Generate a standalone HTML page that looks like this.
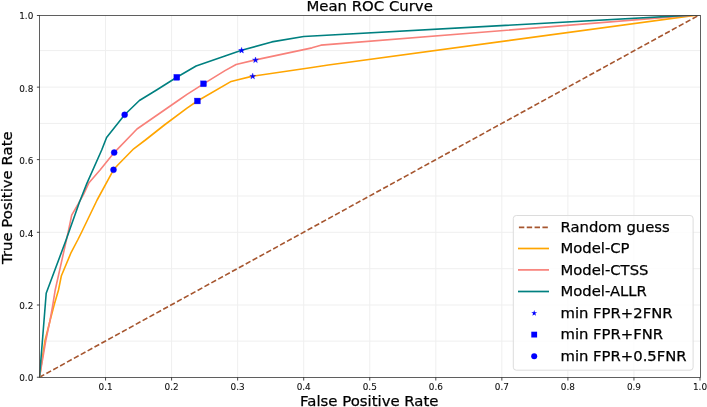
<!DOCTYPE html>
<html><head><meta charset="utf-8"><title>Mean ROC Curve</title>
<style>
html,body{margin:0;padding:0;background:#fff;}
body{width:707px;height:407px;overflow:hidden;}
svg{display:block;}
text{font-family:"DejaVu Sans","Liberation Sans",sans-serif;fill:#000;stroke:#000;stroke-width:0.25px;}
.tk{font-size:8.9px;stroke-width:0.08px;fill:#111;}
.big{font-size:14.9px;}
.lg{font-size:14.8px;}
</style></head><body>
<svg width="707" height="407" viewBox="0 0 707 407">
<rect width="707" height="407" fill="#fff"/>

<g stroke="#efefef" stroke-width="1" fill="none">
<line x1="105.55" y1="15.50" x2="105.55" y2="377.25"/>
<line x1="39.50" y1="341.10" x2="700.00" y2="341.10"/>
<line x1="171.60" y1="15.50" x2="171.60" y2="377.25"/>
<line x1="39.50" y1="305.00" x2="700.00" y2="305.00"/>
<line x1="237.65" y1="15.50" x2="237.65" y2="377.25"/>
<line x1="39.50" y1="268.70" x2="700.00" y2="268.70"/>
<line x1="303.70" y1="15.50" x2="303.70" y2="377.25"/>
<line x1="39.50" y1="232.30" x2="700.00" y2="232.30"/>
<line x1="369.75" y1="15.50" x2="369.75" y2="377.25"/>
<line x1="39.50" y1="196.00" x2="700.00" y2="196.00"/>
<line x1="435.80" y1="15.50" x2="435.80" y2="377.25"/>
<line x1="39.50" y1="159.60" x2="700.00" y2="159.60"/>
<line x1="501.85" y1="15.50" x2="501.85" y2="377.25"/>
<line x1="39.50" y1="123.40" x2="700.00" y2="123.40"/>
<line x1="567.90" y1="15.50" x2="567.90" y2="377.25"/>
<line x1="39.50" y1="87.15" x2="700.00" y2="87.15"/>
<line x1="633.95" y1="15.50" x2="633.95" y2="377.25"/>
<line x1="39.50" y1="50.60" x2="700.00" y2="50.60"/>
</g>
<defs><clipPath id="c"><rect x="39.50" y="15.50" width="660.50" height="361.75"/></clipPath></defs>
<g clip-path="url(#c)" fill="none" stroke-width="1.6" stroke-linejoin="round">
<line x1="39.50" y1="377.25" x2="699.90" y2="14.65" stroke="#a6562f" stroke-width="1.6" stroke-dasharray="5.4 2.442"/>
<polyline points="39.50,377.25 44.90,341.00 50.20,320.00 54.20,304.80 58.50,290.00 61.40,275.70 71.20,252.30 77.70,240.00 81.70,232.00 97.10,200.00 113.50,169.80 117.80,165.00 133.70,148.80 145.40,140.00 164.40,125.00 187.00,108.20 197.40,101.00 231.20,81.40 237.00,79.90 252.70,76.15 312.00,67.50 328.30,65.00 699.90,14.65" stroke="#ffa500"/>
<polyline points="39.50,377.25 45.70,341.00 50.10,320.00 52.80,304.80 55.20,290.00 68.20,232.00 71.70,215.20 78.50,203.50 83.80,193.80 89.00,182.70 100.06,170.00 114.20,152.60 137.00,129.00 178.90,100.00 187.00,94.30 203.50,83.80 225.00,70.60 236.10,64.50 255.50,59.90 312.00,47.85 320.90,45.15 699.90,14.65" stroke="#f8817a"/>
<polyline points="39.50,377.25 46.20,293.30 66.06,240.00 79.50,202.00 87.00,183.10 101.70,150.00 106.60,137.50 124.65,114.80 139.40,100.50 156.60,90.00 176.80,77.30 196.10,66.00 225.00,56.10 241.60,50.30 271.80,41.90 303.70,36.50 699.90,14.65" stroke="#008080"/>
</g>
<g fill="#0000ff" stroke="#0000ff" stroke-width="0.4" stroke-linejoin="miter">
<polygon points="241.60,47.40 242.30,49.54 244.55,49.54 242.73,50.87 243.42,53.01 241.60,51.68 239.78,53.01 240.47,50.87 238.65,49.54 240.90,49.54"/>
<polygon points="255.50,57.00 256.20,59.14 258.45,59.14 256.63,60.47 257.32,62.61 255.50,61.28 253.68,62.61 254.37,60.47 252.55,59.14 254.80,59.14"/>
<polygon points="252.70,73.25 253.40,75.39 255.65,75.39 253.83,76.72 254.52,78.86 252.70,77.53 250.88,78.86 251.57,76.72 249.75,75.39 252.00,75.39"/>
<rect x="173.90" y="74.40" width="5.8" height="5.8"/>
<rect x="200.60" y="80.90" width="5.8" height="5.8"/>
<rect x="194.50" y="98.10" width="5.8" height="5.8"/>
<circle cx="124.65" cy="114.80" r="3"/>
<circle cx="114.20" cy="152.60" r="3"/>
<circle cx="113.50" cy="169.80" r="3"/>
</g>
<rect x="39.5" y="15.5" width="661" height="361.9" fill="none" stroke="#333" stroke-width="0.78"/>
<g stroke="#333" stroke-width="0.9">
<line x1="105.55" y1="377.25" x2="105.55" y2="380.55"/>
<line x1="171.60" y1="377.25" x2="171.60" y2="380.55"/>
<line x1="237.65" y1="377.25" x2="237.65" y2="380.55"/>
<line x1="303.70" y1="377.25" x2="303.70" y2="380.55"/>
<line x1="369.75" y1="377.25" x2="369.75" y2="380.55"/>
<line x1="435.80" y1="377.25" x2="435.80" y2="380.55"/>
<line x1="501.85" y1="377.25" x2="501.85" y2="380.55"/>
<line x1="567.90" y1="377.25" x2="567.90" y2="380.55"/>
<line x1="633.95" y1="377.25" x2="633.95" y2="380.55"/>
<line x1="700.00" y1="377.25" x2="700.00" y2="380.55"/>
<line x1="36.90" y1="377.25" x2="39.50" y2="377.25"/>
<line x1="36.90" y1="305.00" x2="39.50" y2="305.00"/>
<line x1="36.90" y1="232.30" x2="39.50" y2="232.30"/>
<line x1="36.90" y1="159.60" x2="39.50" y2="159.60"/>
<line x1="36.90" y1="87.15" x2="39.50" y2="87.15"/>
<line x1="36.90" y1="15.50" x2="39.50" y2="15.50"/>
</g>
<text class="tk" x="105.55" y="389.9" text-anchor="middle">0.1</text>
<text class="tk" x="171.60" y="389.9" text-anchor="middle">0.2</text>
<text class="tk" x="237.65" y="389.9" text-anchor="middle">0.3</text>
<text class="tk" x="303.70" y="389.9" text-anchor="middle">0.4</text>
<text class="tk" x="369.75" y="389.9" text-anchor="middle">0.5</text>
<text class="tk" x="435.80" y="389.9" text-anchor="middle">0.6</text>
<text class="tk" x="501.85" y="389.9" text-anchor="middle">0.7</text>
<text class="tk" x="567.90" y="389.9" text-anchor="middle">0.8</text>
<text class="tk" x="633.95" y="389.9" text-anchor="middle">0.9</text>
<text class="tk" x="700.00" y="389.9" text-anchor="middle">1.0</text>
<text class="tk" x="33.3" y="381.30" text-anchor="end">0.0</text>
<text class="tk" x="33.3" y="309.30" text-anchor="end">0.2</text>
<text class="tk" x="33.3" y="236.80" text-anchor="end">0.4</text>
<text class="tk" x="33.3" y="164.30" text-anchor="end">0.6</text>
<text class="tk" x="33.3" y="91.60" text-anchor="end">0.8</text>
<text class="tk" x="33.3" y="18.90" text-anchor="end">1.0</text>
<text class="big" x="369.6" y="11.1" text-anchor="middle">Mean ROC Curve</text>
<text class="big" x="369.3" y="405.6" text-anchor="middle">False Positive Rate</text>
<text class="big" transform="translate(12.2 197.7) rotate(-90)" text-anchor="middle">True Positive Rate</text>
<rect x="513.3" y="215.5" width="179.8" height="154.7" rx="3" ry="3" fill="#fff" fill-opacity="0.8" stroke="#dcdcdc" stroke-width="1"/>
<line x1="518.9" y1="227.30" x2="549.0" y2="227.30" stroke="#a6562f" stroke-width="1.7" stroke-dasharray="5.4 2.442"/>
<line x1="518.0" y1="248.50" x2="549.0" y2="248.50" stroke="#ffa500" stroke-width="1.7"/>
<line x1="518.0" y1="269.90" x2="549.0" y2="269.90" stroke="#f8817a" stroke-width="1.7"/>
<line x1="518.0" y1="291.50" x2="549.0" y2="291.50" stroke="#008080" stroke-width="1.7"/>
<polygon points="534.20,310.10 534.90,312.24 537.15,312.24 535.33,313.57 536.02,315.71 534.20,314.38 532.38,315.71 533.07,313.57 531.25,312.24 533.50,312.24" fill="#0000ff"/>
<rect x="531.3" y="331.70" width="5.8" height="5.8" fill="#0000ff"/>
<circle cx="534.2" cy="356.30" r="3" fill="#0000ff"/>
<text class="lg" x="560.5" y="231.90">Random guess</text>
<text class="lg" x="560.5" y="253.10">Model-CP</text>
<text class="lg" x="560.5" y="274.50">Model-CTSS</text>
<text class="lg" x="560.5" y="296.10">Model-ALLR</text>
<text class="lg" x="560.5" y="317.60">min FPR+2FNR</text>
<text class="lg" x="560.5" y="339.20">min FPR+FNR</text>
<text class="lg" x="560.5" y="360.90">min FPR+0.5FNR</text>
</svg>
</body></html>
